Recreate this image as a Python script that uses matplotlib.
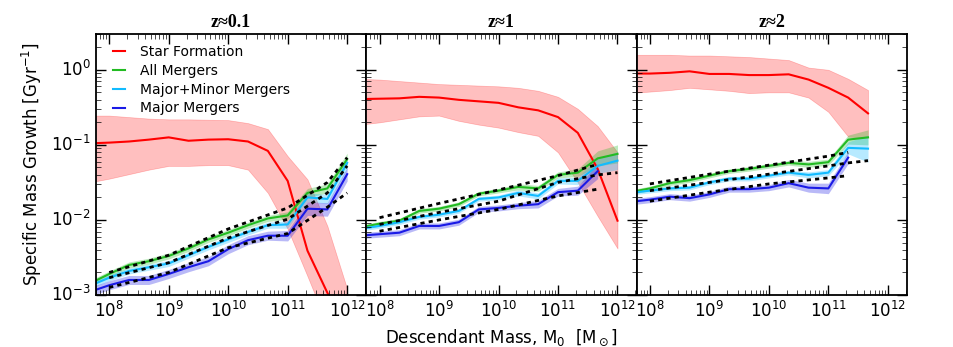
import numpy as np
import matplotlib
matplotlib.use('Agg')
import matplotlib.pyplot as plt

# mass grid, log10(M0/Msun)
logm = np.array([7.667, 8.0, 8.333, 8.667, 9.0, 9.333, 9.667, 10.0, 10.333, 10.667, 11.0, 11.333, 11.667, 12.0])

titles = ['z\u22480.1', 'z\u22481', 'z\u22482']

# log10 specific growth [1/Gyr]
# z ~ 0.1
sf_z0 = [-0.98, -0.97, -0.955, -0.93, -0.90, -0.945, -0.93, -0.925, -0.955, -1.08, -1.48, -2.41, -2.97, -3.5]
sf_z0_hi = [-0.61, -0.61, -0.63, -0.65, -0.66, -0.66, -0.665, -0.67, -0.71, -0.79, -1.15, -1.46, -2.08, -2.92]
sf_z0_lo = [-1.50, -1.45, -1.39, -1.33, -1.28, -1.28, -1.27, -1.27, -1.33, -1.64, -2.12, -2.75, -3.4, -4.0]
all_z0 = [-2.85, -2.72, -2.60, -2.55, -2.48, -2.38, -2.26, -2.17, -2.07, -1.98, -1.94, -1.64, -1.58, -1.19]
mm_z0 = [-2.88, -2.77, -2.68, -2.63, -2.58, -2.47, -2.36, -2.26, -2.16, -2.07, -2.06, -1.70, -1.72, -1.24]
maj_z0 = [-2.96, -2.87, -2.80, -2.80, -2.72, -2.63, -2.55, -2.39, -2.27, -2.21, -2.21, -1.85, -1.86, -1.39]
all_z0_err = [0.04, 0.04, 0.04, 0.04, 0.04, 0.04, 0.04, 0.04, 0.04, 0.04, 0.05, 0.06, 0.06, 0.08]
mm_z0_err = [0.04, 0.04, 0.04, 0.04, 0.04, 0.04, 0.04, 0.04, 0.04, 0.04, 0.05, 0.06, 0.06, 0.08]
maj_z0_err = [0.06, 0.06, 0.06, 0.06, 0.06, 0.06, 0.06, 0.06, 0.06, 0.06, 0.07, 0.09, 0.09, 0.09]

# z ~ 1
sf_z1 = [-0.39, -0.385, -0.38, -0.36, -0.37, -0.40, -0.42, -0.44, -0.50, -0.54, -0.63, -0.84, -1.32, -2.01]
sf_z1_hi = [-0.12, -0.13, -0.15, -0.17, -0.19, -0.20, -0.21, -0.22, -0.24, -0.28, -0.36, -0.52, -0.75, -1.10]
sf_z1_lo = [-0.73, -0.70, -0.66, -0.62, -0.61, -0.68, -0.73, -0.77, -0.83, -0.88, -1.10, -1.50, -1.95, -2.38]
all_z1 = [-2.10, -2.05, -2.01, -1.88, -1.85, -1.79, -1.65, -1.61, -1.56, -1.58, -1.40, -1.37, -1.18, -1.12]
mm_z1 = [-2.12, -2.08, -2.03, -1.96, -1.93, -1.88, -1.72, -1.70, -1.64, -1.68, -1.48, -1.48, -1.28, -1.21]
maj_z1 = [-2.21, -2.19, -2.17, -2.08, -2.08, -2.03, -1.86, -1.84, -1.81, -1.79, -1.63, -1.61, -1.35]
all_z1_err = [0.03, 0.03, 0.03, 0.03, 0.03, 0.03, 0.03, 0.03, 0.04, 0.04, 0.04, 0.05, 0.10, 0.12]
mm_z1_err = [0.03, 0.03, 0.03, 0.03, 0.03, 0.03, 0.03, 0.03, 0.04, 0.04, 0.04, 0.05, 0.10, 0.12]
maj_z1_err = [0.04, 0.04, 0.04, 0.04, 0.04, 0.04, 0.04, 0.04, 0.04, 0.05, 0.05, 0.06, 0.10]

# z ~ 2
sf_z2 = [-0.05, -0.05, -0.04, -0.02, -0.055, -0.055, -0.07, -0.07, -0.06, -0.13, -0.24, -0.37, -0.58]
sf_z2_hi = [0.20, 0.20, 0.20, 0.19, 0.19, 0.18, 0.17, 0.15, 0.13, 0.03, 0.0, -0.12, -0.27]
sf_z2_lo = [-0.31, -0.29, -0.27, -0.24, -0.26, -0.28, -0.31, -0.30, -0.30, -0.37, -0.56, -0.89, -0.90]
all_z2 = [-1.63, -1.58, -1.51, -1.47, -1.41, -1.35, -1.32, -1.28, -1.24, -1.26, -1.23, -0.93, -0.90]
mm_z2 = [-1.64, -1.61, -1.58, -1.57, -1.50, -1.45, -1.45, -1.41, -1.37, -1.40, -1.37, -1.04, -1.05]
maj_z2 = [-1.76, -1.73, -1.69, -1.71, -1.66, -1.59, -1.59, -1.57, -1.51, -1.57, -1.58, -1.17]
all_z2_err = [0.03, 0.03, 0.03, 0.03, 0.03, 0.03, 0.03, 0.03, 0.03, 0.04, 0.04, 0.06, 0.10]
mm_z2_err = [0.03, 0.03, 0.03, 0.03, 0.03, 0.03, 0.03, 0.03, 0.03, 0.04, 0.04, 0.08, 0.18]
maj_z2_err = [0.04, 0.04, 0.04, 0.04, 0.04, 0.04, 0.04, 0.04, 0.05, 0.06, 0.07, 0.08]

# dashed fits (log M, log growth)
fit_x_z0 = [8.0, 9.0, 10.0, 11.0, 11.667, 12.0]
fit_up_z0 = [-2.70, -2.47, -2.12, -1.84, -1.50, -1.17]
fit_mid_z0 = [-2.77, -2.57, -2.24, -1.99, -1.64, -1.28]
fit_lo_z0 = [-2.90, -2.70, -2.37, -2.18, -1.83, -1.64]

fit_x_z1 = [8.0, 9.0, 10.0, 11.0, 11.667, 12.0]
fit_up_z1 = [-1.97, -1.78, -1.60, -1.41, -1.26]
fit_mid_z1 = [-2.06, -1.90, -1.75, -1.50, -1.40, -1.37]
fit_lo_z1 = [-2.15, -2.00, -1.86, -1.68, -1.59]

fit_x_z2 = [8.0, 9.0, 10.0, 11.0, 11.333, 11.667]
fit_up_z2 = [-1.52, -1.39, -1.27, -1.15, -1.10]
fit_mid_z2 = [-1.61, -1.50, -1.39, -1.28, -1.24, -1.21]
fit_lo_z2 = [-1.75, -1.63, -1.52, -1.44, -1.41]

panels = [
    (sf_z0, sf_z0_lo, sf_z0_hi, all_z0, all_z0_err, mm_z0, mm_z0_err, maj_z0, maj_z0_err,
     fit_x_z0, fit_up_z0, fit_mid_z0, fit_lo_z0),
    (sf_z1, sf_z1_lo, sf_z1_hi, all_z1, all_z1_err, mm_z1, mm_z1_err, maj_z1, maj_z1_err,
     fit_x_z1, fit_up_z1, fit_mid_z1, fit_lo_z1),
    (sf_z2, sf_z2_lo, sf_z2_hi, all_z2, all_z2_err, mm_z2, mm_z2_err, maj_z2, maj_z2_err,
     fit_x_z2, fit_up_z2, fit_mid_z2, fit_lo_z2),
]

c_sf = '#ff0000'
c_all = '#22bb22'
c_mm = '#11bbff'
c_maj = '#1a1ae6'

plt.style.use('classic')
plt.rcParams['font.family'] = 'DejaVu Sans'
plt.rcParams['mathtext.fontset'] = 'dejavusans'
plt.rcParams['mathtext.default'] = 'regular'

fig, axes = plt.subplots(1, 3, figsize=(9.54, 3.47), dpi=100, sharey=True)
fig.patch.set_facecolor('white')
fig.subplots_adjust(left=96 / 954, right=907 / 954, bottom=1 - 295 / 347, top=1 - 34 / 347, wspace=0)


def band(ax, y, err, color, label):
    y = np.array(y)
    e = np.array(err)
    x = 10 ** logm[:len(y)]
    ax.fill_between(x, 10 ** (y - e), 10 ** (y + e), color=color, alpha=0.3, lw=0)
    ax.plot(x, 10 ** y, color=color, lw=1.5, label=label)


for ax, title, p in zip(axes, titles, panels):
    sf, sf_lo, sf_hi, a, ae, mm, mme, mj, mje, fx, fu, fm, fl = p
    x = 10 ** logm[:len(sf)]
    ax.fill_between(x, 10 ** np.array(sf_lo), 10 ** np.array(sf_hi), color=c_sf, alpha=0.25, lw=0.5)
    ax.plot(x, 10 ** np.array(sf), color=c_sf, lw=1.5, label='Star Formation')
    band(ax, a, ae, c_all, 'All Mergers')
    band(ax, mm, mme, c_mm, 'Major+Minor Mergers')
    band(ax, mj, mje, c_maj, 'Major Mergers')
    for fy in (fu, fm, fl):
        ax.plot(10 ** np.array(fx[:len(fy)]), 10 ** np.array(fy), color='black', lw=2, ls='--', dashes=(3, 3))
    ax.set_xscale('log')
    ax.set_yscale('log')
    ax.set_xlim(6e7, 2.1e12)
    ax.set_ylim(1e-3, 3)
    ax.set_xticks([1e8, 1e9, 1e10, 1e11, 1e12])
    ax.tick_params(labelsize=12, width=1, length=7)
    ax.tick_params(which='minor', length=3.5)
    for s in ax.spines.values():
        s.set_linewidth(1.3)
    ax.set_title(title, family=['Liberation Serif', 'DejaVu Serif'], fontweight='bold', fontsize=13)

axes[0].set_ylabel(r'Specific Mass Growth $[\mathrm{Gyr}^{-1}]$', fontsize=12)
axes[1].set_xlabel(r'Descendant Mass, M$_0$  $[\mathrm{M}_\odot]$', fontsize=12)
axes[0].legend(loc='upper left', bbox_to_anchor=(0.0, 1.005), frameon=False, fontsize=10,
               handlelength=1.5, labelspacing=0.34)

plt.savefig('out.png', dpi=100, facecolor='white')
